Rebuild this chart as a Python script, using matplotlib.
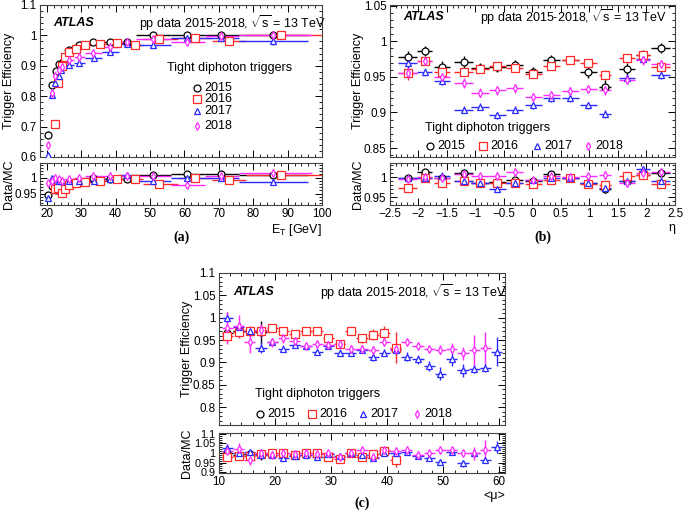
import numpy as np
import matplotlib
matplotlib.use("Agg")
import matplotlib.pyplot as plt
from matplotlib.ticker import MultipleLocator, AutoMinorLocator, FuncFormatter

plt.rcParams['font.family'] = ['Liberation Sans', 'DejaVu Sans']
plt.rcParams['mathtext.fontset'] = 'custom'
plt.rcParams['mathtext.rm'] = 'Liberation Sans'
plt.rcParams['mathtext.it'] = 'Liberation Sans:italic'
plt.rcParams['axes.unicode_minus'] = True

years = ['2015', '2016', '2017', '2018']
colors = {'2015': 'black', '2016': '#ff2a2a', '2017': '#2a2aff', '2018': '#ff2aff'}
markers = {'2015': 'o', '2016': 's', '2017': '^', '2018': 'd'}
msizes = {'2015': 5.0, '2016': 5.5, '2017': 5.0, '2018': 4.0}

# ---------------- (a) efficiency vs E_T ----------------
et_x = {
    '2015': [20.4, 21.4, 22.6, 23.6, 24.6, 26.4, 29.3, 33.5, 38.4, 43.2, 50.8, 60.7, 70.6, 85.8],
    '2016': [22.4, 23.3, 24.4, 25.4, 26.5, 28.5, 31.0, 35.5, 40.5, 45.5, 52.7, 63.0, 73.0, 88.0],
    '2017': [20.4, 21.5, 22.4, 23.4, 24.2, 26.4, 29.4, 33.7, 38.3, 43.3, 51.0, 60.7, 70.7, 85.8],
    '2018': [20.4, 21.4, 22.3, 23.5, 24.5, 26.4, 29.3, 33.5, 38.4, 43.2, 50.8, 60.7, 70.6, 85.8],
}
et_lo = {
    '2015': [20, 21, 22, 23, 24, 25, 28, 31, 36, 41, 46, 56, 66, 76],
    '2016': [22, 23, 24, 25, 26, 27, 30, 33, 38, 43, 48, 58, 68, 78],
    '2017': [20, 21, 22, 23, 24, 25, 28, 31, 36, 41, 44, 56, 66, 76],
    '2018': [20, 21, 22, 23, 24, 25, 28, 31, 36, 41, 46, 56, 66, 76],
}
et_hi = {
    '2015': [21, 22, 23, 24, 25, 28, 31, 36, 41, 46, 56, 66, 76, 96],
    '2016': [23, 24, 25, 26, 27, 30, 33, 38, 43, 48, 58, 68, 78, 100],
    '2017': [21, 22, 23, 24, 25, 28, 31, 36, 41, 46, 56, 66, 76, 96],
    '2018': [21, 22, 23, 24, 25, 28, 31, 36, 41, 46, 56, 66, 76, 97],
}
et_eff = {
    '2015': [0.673, 0.837, 0.882, 0.905, 0.913, 0.952, 0.967, 0.977, 0.977, 0.979, 1.000, 1.001, 1.000, 1.000],
    '2016': [0.710, 0.843, 0.900, 0.930, 0.945, 0.955, 0.968, 0.972, 0.975, 0.967, 0.988, 0.990, 0.980, 1.002],
    '2017': [0.606, 0.804, 0.842, 0.866, 0.885, 0.902, 0.910, 0.925, 0.946, 0.970, 0.969, 0.990, 0.991, 0.980],
    '2018': [0.641, 0.809, 0.865, 0.885, 0.896, 0.919, 0.930, 0.941, 0.961, 0.978, 0.988, 0.977, 0.997, 1.000],
}
et_err = {
    '2015': [0.012, 0.006, 0.005, 0.005, 0.004, 0.004, 0.003, 0.003, 0.003, 0.003, 0.003, 0.004, 0.004, 0.005],
    '2016': [0.006, 0.005, 0.004, 0.004, 0.004, 0.003, 0.003, 0.003, 0.003, 0.004, 0.004, 0.005, 0.008, 0.006],
    '2017': [0.006, 0.005, 0.004, 0.004, 0.004, 0.003, 0.003, 0.003, 0.003, 0.004, 0.004, 0.005, 0.006, 0.012],
    '2018': [0.006, 0.005, 0.004, 0.004, 0.004, 0.003, 0.003, 0.003, 0.003, 0.003, 0.004, 0.006, 0.005, 0.006],
}
et_ratio = {
    '2015': [0.946, 0.975, 0.962, 0.960, 0.958, 0.983, 0.988, 0.999, 0.994, 0.994, 1.007, 1.011, 1.012, 1.009],
    '2016': [0.966, 0.967, 0.952, 0.965, 0.976, 0.982, 0.985, 0.988, 0.994, 0.994, 0.981, 0.999, 0.992, 1.009],
    '2017': [0.937, 0.999, 0.996, 0.990, 0.990, 0.990, 0.990, 0.990, 0.994, 1.008, 0.988, 1.000, 1.000, 0.986],
    '2018': [0.983, 0.990, 1.000, 0.996, 0.990, 0.996, 1.000, 1.004, 1.004, 1.004, 1.005, 0.978, 1.004, 1.013],
}
et_rerr = {
    '2015': [0.008, 0.006, 0.006, 0.005, 0.005, 0.004, 0.004, 0.003, 0.003, 0.003, 0.003, 0.004, 0.004, 0.005],
    '2016': [0.006, 0.006, 0.005, 0.005, 0.004, 0.004, 0.003, 0.003, 0.003, 0.004, 0.004, 0.005, 0.008, 0.006],
    '2017': [0.008, 0.006, 0.005, 0.005, 0.004, 0.004, 0.003, 0.003, 0.003, 0.005, 0.004, 0.005, 0.006, 0.010],
    '2018': [0.006, 0.006, 0.005, 0.005, 0.004, 0.004, 0.003, 0.003, 0.003, 0.003, 0.004, 0.006, 0.005, 0.006],
}

# ---------------- (b) efficiency vs eta ----------------
eta_x = [-2.19, -1.89, -1.59, -1.21, -0.92, -0.62, -0.31, 0.01, 0.33, 0.66, 0.98, 1.27, 1.66, 1.94, 2.25]
eta_hw = [0.17, 0.13, 0.14, 0.16, 0.15, 0.15, 0.15, 0.15, 0.15, 0.15, 0.15, 0.11, 0.14, 0.13, 0.17]
eta_eff = {
    '2015': [0.978, 0.986, 0.964, 0.971, 0.962, 0.964, 0.967, 0.957, 0.974, 0.974, 0.957, 0.936, 0.961, 0.981, 0.990],
    '2016': [0.956, 0.972, 0.957, 0.957, 0.961, 0.965, 0.962, 0.954, 0.965, 0.974, 0.969, 0.953, 0.977, 0.981, 0.964],
    '2017': [0.969, 0.957, 0.944, 0.904, 0.908, 0.896, 0.904, 0.910, 0.920, 0.920, 0.910, 0.898, 0.948, 0.975, 0.953],
    '2018': [0.956, 0.972, 0.950, 0.942, 0.928, 0.931, 0.934, 0.922, 0.924, 0.930, 0.933, 0.932, 0.946, 0.973, 0.968],
}
eta_err = {
    '2015': [0.008, 0.007, 0.008, 0.008, 0.007, 0.007, 0.007, 0.007, 0.007, 0.006, 0.008, 0.009, 0.008, 0.007, 0.007],
    '2016': [0.010, 0.006, 0.006, 0.006, 0.005, 0.005, 0.005, 0.005, 0.005, 0.005, 0.005, 0.006, 0.005, 0.005, 0.006],
    '2017': [0.006, 0.006, 0.006, 0.005, 0.005, 0.005, 0.005, 0.005, 0.005, 0.005, 0.005, 0.006, 0.006, 0.005, 0.006],
    '2018': [0.007, 0.006, 0.007, 0.007, 0.006, 0.006, 0.006, 0.006, 0.006, 0.006, 0.006, 0.007, 0.006, 0.006, 0.006],
}
eta_ratio = {
    '2015': [0.997, 1.013, 0.998, 1.011, 0.986, 0.988, 0.993, 0.990, 1.008, 0.998, 0.986, 0.969, 0.990, 1.005, 1.011],
    '2016': [0.972, 0.998, 0.986, 0.990, 0.984, 0.986, 0.985, 0.982, 0.993, 0.998, 0.982, 0.980, 1.003, 1.005, 0.982],
    '2017': [0.998, 0.998, 1.002, 0.990, 0.984, 0.969, 0.984, 0.993, 0.998, 0.998, 0.984, 0.972, 0.990, 1.019, 0.990],
    '2018': [0.995, 1.000, 0.998, 1.008, 1.002, 1.002, 1.013, 0.993, 1.002, 1.000, 1.003, 1.005, 0.986, 1.010, 1.013],
}
eta_rerr = {
    '2015': [0.008, 0.007, 0.008, 0.008, 0.007, 0.007, 0.007, 0.007, 0.007, 0.006, 0.008, 0.009, 0.008, 0.007, 0.007],
    '2016': [0.008, 0.006, 0.006, 0.006, 0.005, 0.005, 0.005, 0.005, 0.005, 0.005, 0.005, 0.006, 0.005, 0.005, 0.006],
    '2017': [0.007, 0.007, 0.010, 0.008, 0.008, 0.007, 0.007, 0.006, 0.006, 0.006, 0.007, 0.008, 0.008, 0.008, 0.007],
    '2018': [0.008, 0.007, 0.008, 0.008, 0.008, 0.008, 0.008, 0.008, 0.008, 0.008, 0.008, 0.009, 0.010, 0.008, 0.008],
}

# ---------------- (c) efficiency vs <mu> ----------------
mu_x = [11.5, 13.5, 15.5, 17.5, 19.5, 21.5, 23.5, 25.5, 27.5, 29.5, 31.5, 33.5, 35.5,
        37.5, 39.5, 41.5, 43.5, 45.5, 47.5, 49.5, 51.5, 53.5, 55.5, 57.5, 59.5]
mu_hw = 1.0
mu_eff = {
    '2015': [0.966, 0.970, 0.970, 0.967],
    '2016': [0.958, 0.967, 0.971, 0.971, 0.977, 0.971, 0.964, 0.971, 0.970, 0.954, 0.942, 0.970,
             0.954, 0.962, 0.966, 0.933],
    '2017': [1.000, 0.980, 0.970, 0.933, 0.946, 0.931, 0.939, 0.937, 0.924, 0.937, 0.922, 0.922,
             0.928, 0.911, 0.922, 0.928, 0.913, 0.907, 0.892, 0.875, 0.907, 0.882, 0.886, 0.888, 0.924],
    '2018': [0.977, 0.982, 0.945, 0.972, 0.945, 0.954, 0.948, 0.937, 0.941, 0.940, 0.942, 0.930,
             0.930, 0.928, 0.945, 0.930, 0.946, 0.937, 0.931, 0.928, 0.931, 0.920, 0.927, 0.933],
}
mu_err = {
    '2015': [0.008, 0.010, 0.010, 0.025],
    '2016': [0.012, 0.012, 0.010, 0.010, 0.007, 0.007, 0.007, 0.007, 0.007, 0.007, 0.007, 0.008,
             0.010, 0.012, 0.015, 0.035],
    '2017': [0.012, 0.010, 0.010, 0.012, 0.008, 0.008, 0.007, 0.007, 0.007, 0.007, 0.007, 0.007,
             0.008, 0.008, 0.008, 0.010, 0.010, 0.010, 0.012, 0.015, 0.015, 0.015, 0.010, 0.010, 0.033],
    '2018': [0.035, 0.025, 0.025, 0.015, 0.010, 0.010, 0.010, 0.008, 0.008, 0.008, 0.008, 0.008,
             0.008, 0.008, 0.008, 0.008, 0.008, 0.008, 0.008, 0.010, 0.012, 0.015, 0.035, 0.035],
}
mu_ratio = {
    '2015': [0.998, 0.990, 0.993, 0.993],
    '2016': [0.977, 0.985, 0.985, 0.993, 1.000, 1.000, 0.990, 0.998, 0.998, 0.980, 0.967, 0.998,
             0.980, 0.993, 1.010, 0.963],
    '2017': [1.026, 0.998, 1.007, 0.990, 0.990, 0.975, 0.985, 0.990, 0.980, 0.993, 0.985, 0.998,
             0.990, 0.972, 0.998, 0.998, 1.003, 0.985, 0.972, 0.954, 1.007, 0.945, 0.998, 0.961, 1.033],
    '2018': [1.010, 1.020, 0.965, 1.000, 0.990, 0.998, 0.993, 0.998, 0.993, 0.998, 0.980, 1.000,
             1.017, 0.980, 1.017, 1.010, 1.013, 0.990, 1.000, 1.013, 1.017, 0.998, 0.998, 1.017],
}
mu_rerr = {
    '2015': [0.010, 0.012, 0.012, 0.030],
    '2016': [0.014, 0.014, 0.012, 0.012, 0.008, 0.008, 0.008, 0.008, 0.008, 0.008, 0.008, 0.009,
             0.012, 0.014, 0.016, 0.035],
    '2017': [0.020, 0.012, 0.012, 0.014, 0.010, 0.010, 0.008, 0.008, 0.008, 0.008, 0.008, 0.008,
             0.009, 0.009, 0.009, 0.011, 0.011, 0.011, 0.014, 0.016, 0.016, 0.016, 0.012, 0.012, 0.032],
    '2018': [0.035, 0.030, 0.030, 0.016, 0.012, 0.012, 0.010, 0.009, 0.009, 0.009, 0.009, 0.009,
             0.009, 0.009, 0.009, 0.009, 0.009, 0.009, 0.009, 0.012, 0.014, 0.016, 0.035, 0.050],
}

FS = 8.4   # tick labels
TS = 8.4   # texts
HS = 9.0   # header line
fmt = FuncFormatter(lambda v, p: ('%g' % round(v, 4)).replace('-', '\u2212'))

fig = plt.figure(figsize=(6.85, 5.11), dpi=100)


def style(ax, xmaj, xminor_n, ymaj, yminor_n, showx):
    ax.xaxis.set_major_locator(MultipleLocator(xmaj))
    ax.xaxis.set_minor_locator(AutoMinorLocator(xminor_n))
    ax.yaxis.set_major_locator(MultipleLocator(ymaj))
    ax.yaxis.set_minor_locator(AutoMinorLocator(yminor_n))
    ax.tick_params(which='both', direction='in', top=True, right=True, labelsize=FS, pad=2.5)
    ax.tick_params(which='major', length=5, width=0.7)
    ax.tick_params(which='minor', length=2.5, width=0.6)
    ax.xaxis.set_major_formatter(fmt)
    ax.yaxis.set_major_formatter(fmt)
    if not showx:
        ax.tick_params(labelbottom=False)
    for s in ax.spines.values():
        s.set_linewidth(0.8)
        s.set_color('#444444')


def series(ax, x, y, xl, xh, ye, yr):
    x = np.asarray(x)
    xerr = [x - np.asarray(xl), np.asarray(xh) - x]
    ax.errorbar(x, y, xerr=xerr, yerr=ye, fmt=markers[yr], ms=msizes[yr], mfc='white',
                mec=colors[yr], mew=0.9, ecolor=colors[yr], elinewidth=1.0, capsize=0, zorder=3)


def legend_col(ax, xs, ys):
    for yr, mx, my in zip(years, xs, ys):
        ax.plot([mx], [my], marker=markers[yr], ms=msizes[yr], mfc='white', mec=colors[yr],
                mew=0.9, transform=ax.transAxes, clip_on=False, ls='none')
        ax.text(mx + 0.025, my, yr, transform=ax.transAxes, fontsize=HS, va='center', ha='left')


def headers(ax, ax_atlas, ay, px, py, ha='left'):
    ax.text(ax_atlas, ay, 'ATLAS', transform=ax.transAxes, fontsize=HS,
            fontweight='bold', fontstyle='italic', va='center')
    ax.text(px, py, r'pp data 2015-2018, $\sqrt{\mathrm{s}}$ = 13 TeV', transform=ax.transAxes,
            fontsize=HS, va='center', ha=ha)


def labels(ax, axr, xlabel, lx):
    ax.set_ylabel('Trigger Efficiency', fontsize=HS)
    axr.set_ylabel('Data/MC', fontsize=HS)
    ax.yaxis.set_label_coords(lx, 0.5)
    axr.yaxis.set_label_coords(lx, 0.5)
    axr.set_xlabel(xlabel, fontsize=HS, loc='right', labelpad=1)


# ---------- panel (a)
axa = fig.add_axes([0.0584, 0.6928, 0.4117, 0.2975])
axar = fig.add_axes([0.0584, 0.5988, 0.4117, 0.0822])
for yr in years:
    series(axa, et_x[yr], et_eff[yr], et_lo[yr], et_hi[yr], et_err[yr], yr)
    series(axar, et_x[yr], et_ratio[yr], et_lo[yr], et_hi[yr], et_rerr[yr], yr)
axa.set_xlim(18, 100); axar.set_xlim(18, 100)
axa.set_ylim(0.6, 1.1); axar.set_ylim(0.915, 1.045)
style(axa, 10, 5, 0.1, 5, False)
style(axar, 10, 5, 0.05, 5, True)
labels(axa, axar, r'E$_\mathrm{T}$ [GeV]', -0.087)
headers(axa, 0.046, 0.88, 0.35, 0.88)
axa.text(0.672, 0.585, 'Tight diphoton triggers', transform=axa.transAxes, fontsize=HS,
         ha='center', va='center')
legend_col(axa, [0.557] * 4, [0.455, 0.38, 0.30, 0.205])
fig.text(181 / 685, 1 - 237 / 511, '(a)', fontsize=HS + 1, fontweight='bold',
         family='Liberation Serif', ha='center', va='center')

# ---------- panel (b)
axb = fig.add_axes([0.5693, 0.6928, 0.4161, 0.2975])
axbr = fig.add_axes([0.5693, 0.5988, 0.4161, 0.0822])
for yr in years:
    lo = np.asarray(eta_x) - np.asarray(eta_hw)
    hi = np.asarray(eta_x) + np.asarray(eta_hw)
    series(axb, eta_x, eta_eff[yr], lo, hi, eta_err[yr], yr)
    series(axbr, eta_x, eta_ratio[yr], lo, hi, eta_rerr[yr], yr)
axb.set_xlim(-2.5, 2.5); axbr.set_xlim(-2.5, 2.5)
axb.set_ylim(0.8375, 1.051); axbr.set_ylim(0.93, 1.035)
style(axb, 0.5, 5, 0.05, 5, False)
style(axbr, 0.5, 5, 0.05, 5, True)
labels(axb, axbr, '\u03b7', -0.09)
headers(axb, 0.046, 0.92, 0.97, 0.92, ha='right')
axb.text(0.344, 0.19, 'Tight diphoton triggers', transform=axb.transAxes, fontsize=HS,
         ha='center', va='center')
legend_col(axb, [0.14, 0.326, 0.516, 0.695], [0.072] * 4)
fig.text(543 / 685, 1 - 237 / 511, '(b)', fontsize=HS + 1, fontweight='bold',
         family='Liberation Serif', ha='center', va='center')

# ---------- panel (c)
axc = fig.add_axes([0.3197, 0.1683, 0.4175, 0.2975])
axcr = fig.add_axes([0.3197, 0.0744, 0.4175, 0.0783])
for yr in years:
    n = len(mu_eff[yr])
    xx = np.asarray(mu_x[:n])
    series(axc, xx, mu_eff[yr], xx - mu_hw, xx + mu_hw, mu_err[yr], yr)
    series(axcr, xx, mu_ratio[yr], xx - mu_hw, xx + mu_hw, mu_rerr[yr], yr)
axc.set_xlim(10, 61); axcr.set_xlim(10, 61)
axc.set_ylim(0.76, 1.1); axcr.set_ylim(0.895, 1.105)
style(axc, 10, 5, 0.05, 5, False)
style(axcr, 10, 5, 0.05, 5, True)
axcr.tick_params(axis='y', labelsize=FS - 0.6)
labels(axc, axcr, '<\u03bc>', -0.092)
headers(axc, 0.049, 0.875, 0.353, 0.875)
axc.text(0.343, 0.204, 'Tight diphoton triggers', transform=axc.transAxes, fontsize=HS,
         ha='center', va='center')
legend_col(axc, [0.143, 0.325, 0.503, 0.692], [0.072] * 4)
fig.text(362 / 685, 1 - 503 / 511, '(c)', fontsize=HS + 1, fontweight='bold',
         family='Liberation Serif', ha='center', va='center')

fig.savefig('out.png', dpi=100)
